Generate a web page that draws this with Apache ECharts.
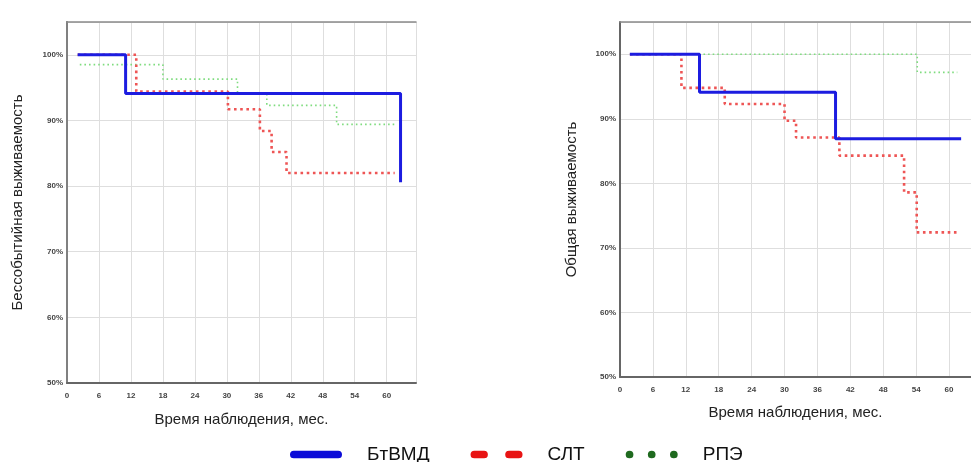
<!DOCTYPE html>
<html><head><meta charset="utf-8">
<script src="https://cdn.jsdelivr.net/npm/echarts@6/dist/echarts.min.js"></script>
<style>html,body{margin:0;padding:0;background:#fff}#c{width:971px;height:462px}</style>
</head><body><div id="c"></div>
<script>
// ---- data ----
const seriesNames = ['БтВМД', 'СЛТ', 'РПЭ'];
const xTickLabels = ['0','6','12','18','24','30','36','42','48','54','60'];
const yTickLabels = ['50%','60%','70%','80%','90%','100%'];
const leftTitle = 'Бессобытийная выживаемость';
const rightTitle = 'Общая выживаемость';
const xTitle = 'Время наблюдения, мес.';

// left panel (event-free survival): months / survival %
const efsBlueT = [2, 11, 62.6];
const efsBlueS = [100, 94.1, 80.6];
const efsRedT  = [2, 13, 30.2, 36.2, 38.4, 41.2, 61.5];
const efsRedS  = [100, 94.4, 91.7, 88.4, 85.2, 82.0, 82.0];
const efsGreenT = [2.4, 18, 32, 37.5, 50.6, 61.5];
const efsGreenS = [98.5, 96.3, 94.1, 92.3, 89.4, 89.4];

// right panel (overall survival)
const osBlueT = [1.8, 14.5, 39.3, 62.2];
const osBlueS = [100, 94.1, 86.9, 86.9];
const osRedT  = [1.8, 11.2, 19.1, 30, 32.1, 40, 51.8, 54.1, 61.5];
const osRedS  = [100, 94.8, 92.3, 89.7, 87.1, 84.3, 78.6, 72.4, 72.4];
const osGreenT = [1.8, 54.2, 61.5];
const osGreenS = [100, 97.2, 97.2];

function pairs(t, s) { return t.map((v, i) => [v, s[i]]); }

const lineStyles = [
  { color: '#1c1ce0', width: 3, type: 'solid' },
  { color: '#ee5555', width: 2.6, type: [2.6, 3.6] },
  { color: '#7fdc7f', width: 1.6, type: [1.6, 3] }
];

function mkSeries(gi, name, idx, t, s) {
  return {
    type: 'line', name: name, xAxisIndex: gi, yAxisIndex: gi,
    step: 'end', data: pairs(t, s), symbol: 'none',
    lineStyle: lineStyles[idx], itemStyle: { color: lineStyles[idx].color },
    z: 10 - idx, animation: false, silent: true
  };
}

const XMAX = [65.5, 64];
function xAxis(gi) {
  return {
    type: 'value', gridIndex: gi, min: 0, max: XMAX[gi], interval: 6,
    name: xTitle, nameLocation: 'middle', nameGap: gi === 0 ? 29 : 28,
    nameTextStyle: { fontFamily: 'Liberation Sans', fontSize: 15, color: '#222' },
    axisLine: { show: true, lineStyle: { color: '#666', width: 2 } },
    axisTick: { show: false },
    axisLabel: { showMaxLabel: false, margin: 9, fontFamily: 'Liberation Sans', fontSize: 8, fontWeight: 'bold', color: '#444',
      formatter: v => { const i = xTickLabels.indexOf(String(v)); return i >= 0 ? xTickLabels[i] : ''; } },
    splitLine: { show: true, lineStyle: { color: '#dedede', width: 1 } }
  };
}
function topAxis(gi) {
  return {
    type: 'value', gridIndex: gi, min: 0, max: XMAX[gi], position: 'top',
    axisLine: { show: true, lineStyle: { color: '#8a8a8a', width: 1.5 } },
    axisTick: { show: false }, axisLabel: { show: false }, splitLine: { show: false }
  };
}
function yAxis(gi) {
  return {
    type: 'value', gridIndex: gi, min: 50, max: 105, interval: 10,
    name: gi === 0 ? leftTitle : rightTitle, nameLocation: 'middle', nameRotate: 90,
    nameGap: gi === 0 ? 42 : 41,
    nameTextStyle: { fontFamily: 'Liberation Sans', fontSize: 15, color: '#222' },
    axisLine: { show: true, lineStyle: { color: '#666', width: 2 } },
    axisTick: { show: false },
    axisLabel: { showMaxLabel: false, margin: 4, fontFamily: 'Liberation Sans', fontSize: 8, fontWeight: 'bold', color: '#444',
      formatter: v => { const i = Math.round((v - 50) / 10); return (v - 50) % 10 === 0 && yTickLabels[i] ? yTickLabels[i] : ''; } },
    splitLine: { show: true, lineStyle: { color: '#dedede', width: 1 } }
  };
}
function rightAxis(gi) {
  return {
    type: 'value', gridIndex: gi, min: 50, max: 105, position: 'right',
    axisLine: { show: true, lineStyle: { color: '#8a8a8a', width: 1.5 } },
    axisTick: { show: false }, axisLabel: { show: false }, splitLine: { show: false }
  };
}

const chart = echarts.init(document.getElementById('c'), null, { renderer: 'canvas' });
chart.setOption({
  animation: false,
  grid: [
    { left: 67, top: 22, width: 349, height: 361 },
    { left: 620, top: 22, right: 0, height: 355 }
  ],
  xAxis: [xAxis(0), xAxis(1), topAxis(0), topAxis(1)],
  yAxis: [yAxis(0), yAxis(1), rightAxis(0)],
  legend: {
    left: 285, top: 440, itemWidth: 52, itemHeight: 8, itemGap: 41,
    selectedMode: false,
    textStyle: { fontFamily: 'Liberation Sans', fontSize: 19, color: '#111', padding: [0, 0, 0, 20] },
    data: [
      { name: seriesNames[0], icon: 'path://M4,0h46a4,4 0 0 1 0,8h-46a4,4 0 0 1 0,-8z', itemStyle: { color: '#0c0cd8' } },
      { name: seriesNames[1], icon: 'path://M4,0h10a4,4 0 0 1 0,8h-10a4,4 0 0 1 0,-8z M40,0h10a4,4 0 0 1 0,8h-10a4,4 0 0 1 0,-8z', itemStyle: { color: '#e81414' } },
      { name: seriesNames[2], icon: 'path://M0,4a4,4 0 1 0 8,0a4,4 0 1 0 -8,0z M23,4a4,4 0 1 0 8,0a4,4 0 1 0 -8,0z M46,4a4,4 0 1 0 8,0a4,4 0 1 0 -8,0z', itemStyle: { color: '#1f6a1f' } }
    ]
  },
  series: [
    mkSeries(0, seriesNames[2], 2, efsGreenT, efsGreenS),
    mkSeries(0, seriesNames[1], 1, efsRedT, efsRedS),
    mkSeries(0, seriesNames[0], 0, efsBlueT, efsBlueS),
    mkSeries(1, seriesNames[2], 2, osGreenT, osGreenS),
    mkSeries(1, seriesNames[1], 1, osRedT, osRedS),
    mkSeries(1, seriesNames[0], 0, osBlueT, osBlueS)
  ]
});
</script></body></html>
